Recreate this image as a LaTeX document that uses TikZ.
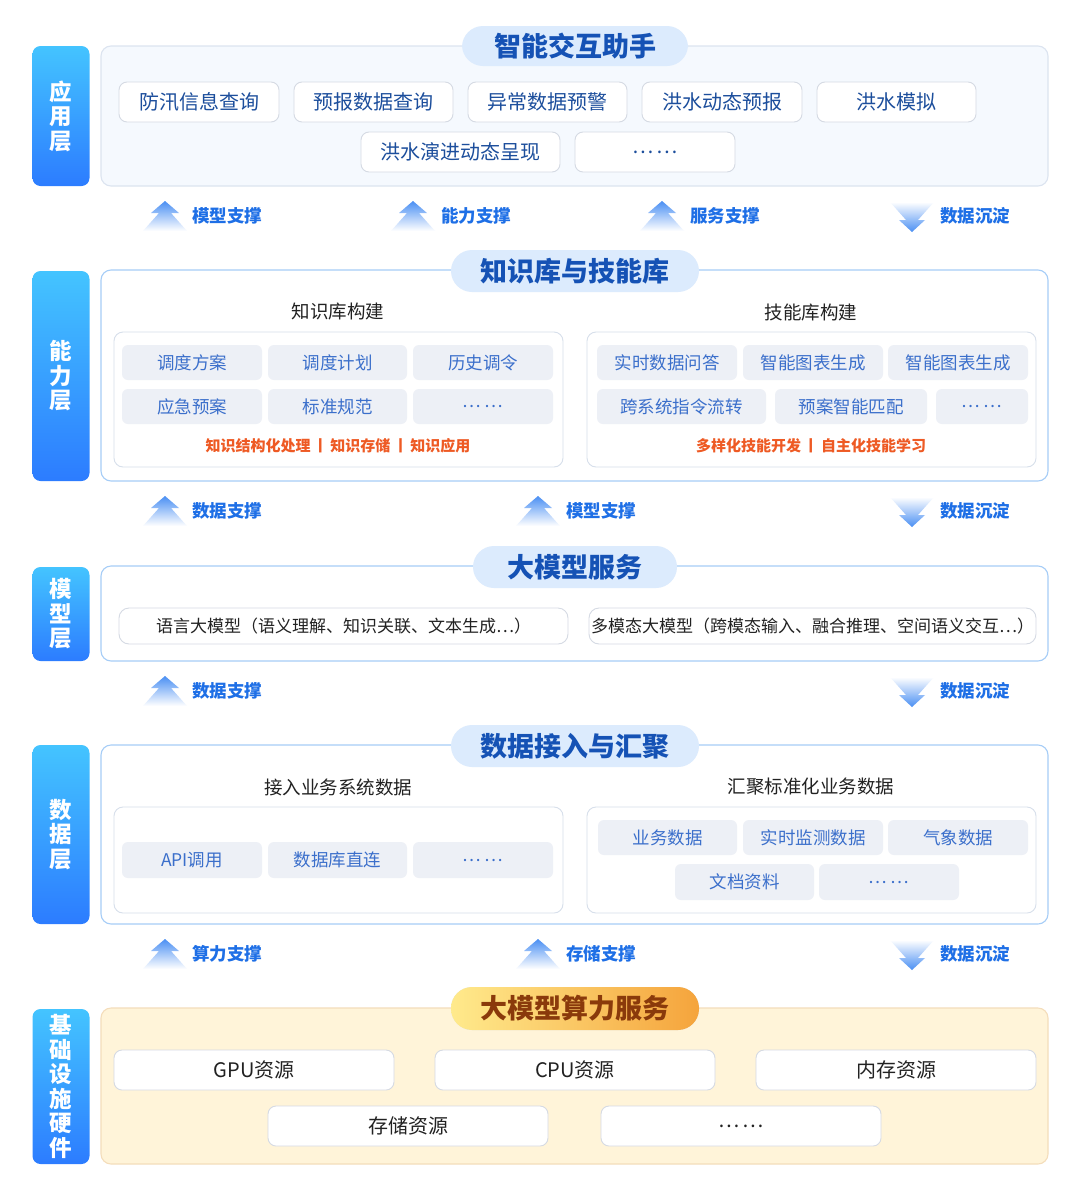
\documentclass[tikz,border=0pt]{standalone}
\usepackage{fontspec}
\setmainfont{Noto Sans CJK SC}
\definecolor{lyTop}{HTML}{44C4FF}
\definecolor{lyBot}{HTML}{2C7CFF}
\definecolor{pillFill}{HTML}{DCEBFD}
\definecolor{pillText}{HTML}{1552B5}
\definecolor{appFill}{HTML}{F5F9FE}
\definecolor{appLine}{HTML}{DCE4F0}
\definecolor{panLine}{HTML}{A6CDF7}
\definecolor{itemLine}{HTML}{D5DAE3}
\definecolor{itemText}{HTML}{1C4E9C}
\definecolor{chipFill}{HTML}{EDF0F6}
\definecolor{chipText}{HTML}{3B6FCB}
\definecolor{innerLine}{HTML}{D7DFEB}
\definecolor{darkText}{HTML}{222222}
\definecolor{orangeText}{HTML}{EE5A24}
\definecolor{suppText}{HTML}{1E6FE6}
\definecolor{arrBlue}{HTML}{4A8FF3}
\definecolor{baseFill}{HTML}{FFF4D9}
\definecolor{baseLine}{HTML}{F4DDBB}
\definecolor{goldL}{HTML}{FFEA8C}
\definecolor{goldR}{HTML}{F5A43C}
\definecolor{brownText}{HTML}{8A3A0B}
\newcommand{\dotsdots}{⋯\kern3pt⋯}
\tikzset{
  layer/.style={rounded corners=8, top color=lyTop, bottom color=lyBot, draw=none,
    minimum width=57, text=white, font=\fontsize{22.5}{24.5}\selectfont\bfseries,
    align=center, inner sep=0},
  panel/.style={rounded corners=10, draw=panLine, line width=1.1, fill=white, minimum width=947},
  pill/.style={rounded corners=21, fill=pillFill, text=pillText,
    font=\fontsize{27}{30}\selectfont\bfseries, inner sep=0},
  appitem/.style={rounded corners=8, fill=white, draw=itemLine, line width=0.9,
    text=itemText, font=\fontsize{20}{24}\selectfont, minimum height=40, inner sep=0},
  chip/.style={rounded corners=6, fill=chipFill, text=chipText,
    font=\fontsize{17.5}{21}\selectfont, inner sep=0},
  inner/.style={rounded corners=9, fill=white, draw=innerLine, line width=0.9, minimum width=449},
  subt/.style={text=darkText, font=\fontsize{18.5}{22}\selectfont},
  orange/.style={text=orangeText, font=\fontsize{15}{18}\selectfont\bfseries},
  supp/.style={text=suppText, font=\fontsize{17.5}{20}\selectfont\bfseries, anchor=west, inner sep=0},
  modelitem/.style={rounded corners=10, fill=white, draw=itemLine, line width=0.9,
    text=darkText, font=\fontsize{17}{20}\selectfont, minimum height=36, inner sep=0},
  baseitem/.style={rounded corners=8, fill=white, draw=itemLine, line width=0.9,
    text=darkText, font=\fontsize{20}{24}\selectfont, minimum height=40, minimum width=280, inner sep=0},
  uparr/.pic={\shade[top color=arrBlue, bottom color=white]
    (0,-15) -- (14,-3) -- (6,-3) -- (22,15) -- (-22,15) -- (-6,-3) -- (-14,-3) -- cycle;},
  dnarr/.pic={\shade[top color=white, bottom color=arrBlue]
    (-22,-15) -- (22,-15) -- (6,3) -- (13,3) -- (0,15) -- (-13,3) -- (-6,3) -- cycle;}
}
\begin{document}
\begin{tikzpicture}[x=1pt,y=-1pt]
\fill[white] (0,0) rectangle (1080,1189);
\useasboundingbox (0,0) rectangle (1080,1189);

% ---------- layer labels ----------
\node[layer, minimum height=140] (L1) at (61,116) {应\\用\\层};
\node[layer, minimum height=210] (L2) at (61,376) {能\\力\\层};
\node[layer, minimum height=94] (L3) at (61,614) {模\\型\\层};
\node[layer, minimum height=179] (L4) at (61,834.5) {数\\据\\层};
\node[layer, minimum height=155] (L5) at (61,1086.5) {基\\础\\设\\施\\硬\\件};

% ---------- application layer ----------
\node[panel, draw=appLine, fill=appFill, minimum height=140] (P1) at (574.5,116) {};
\node[pill, minimum width=226, minimum height=40] (T1) at (575,46) {智能交互助手};
\node[appitem, minimum width=160] (a1) at (199,102) {防汛信息查询};
\node[appitem, minimum width=159] (a2) at (373.5,102) {预报数据查询};
\node[appitem, minimum width=159] (a3) at (547.5,102) {异常数据预警};
\node[appitem, minimum width=160] (a4) at (722,102) {洪水动态预报};
\node[appitem, minimum width=159] (a5) at (896.5,102) {洪水模拟};
\node[appitem, minimum width=199] (a6) at (460.5,152) {洪水演进动态呈现};
\node[appitem, minimum width=160] (a7) at (655,152) {\dotsdots};

% support row 1
\pic at (165,216) {uparr};
\node[supp] (s11) at (192,216) {模型支撑};
\pic at (413,216) {uparr};
\node[supp] (s12) at (441,216) {能力支撑};
\pic at (662,216) {uparr};
\node[supp] (s13) at (690,216) {服务支撑};
\pic at (912,217) {dnarr};
\node[supp] (s14) at (940,216) {数据沉淀};

% ---------- ability layer ----------
\node[panel, minimum height=211] (P2) at (574.5,375.5) {};
\node[pill, minimum width=248, minimum height=42] (T2) at (575,271) {知识库与技能库};
\node[subt] (k1) at (338,312) {知识库构建};
\node[subt] (k2) at (811,312) {技能库构建};
\node[inner, minimum height=135] (IB1) at (338.5,399.5) {};
\node[inner, minimum height=135] (IB2) at (811.5,399.5) {};
\node[chip, minimum width=140, minimum height=35] (c1) at (192,362.5) {调度方案};
\node[chip, minimum width=139, minimum height=35] (c2) at (337.5,362.5) {调度计划};
\node[chip, minimum width=140, minimum height=35] (c3) at (483,362.5) {历史调令};
\node[chip, minimum width=140, minimum height=35] (c4) at (192,406.5) {应急预案};
\node[chip, minimum width=139, minimum height=35] (c5) at (337.5,406.5) {标准规范};
\node[chip, minimum width=140, minimum height=35] (c6) at (483,406.5) {\dotsdots};
\node[orange] (o1) at (338,446) {知识结构化处理\,丨\,知识存储\,丨\,知识应用};
\node[chip, minimum width=140, minimum height=35] (d1) at (667,362.5) {实时数据问答};
\node[chip, minimum width=140, minimum height=35] (d2) at (813,362.5) {智能图表生成};
\node[chip, minimum width=140, minimum height=35] (d3) at (958,362.5) {智能图表生成};
\node[chip, minimum width=169, minimum height=35] (d4) at (681.5,406.5) {跨系统指令流转};
\node[chip, minimum width=152, minimum height=35] (d5) at (851,406.5) {预案智能匹配};
\node[chip, minimum width=92, minimum height=35] (d6) at (982,406.5) {\dotsdots};
\node[orange] (o2) at (811,446) {多样化技能开发\,丨\,自主化技能学习};

% support row 2
\pic at (165,511) {uparr};
\node[supp] (s21) at (192,511) {数据支撑};
\pic at (538,511) {uparr};
\node[supp] (s22) at (566,511) {模型支撑};
\pic at (912,512) {dnarr};
\node[supp] (s23) at (940,511) {数据沉淀};

% ---------- model layer ----------
\node[panel, minimum height=95] (P3) at (574.5,613.5) {};
\node[pill, minimum width=204, minimum height=42] (T3) at (575,567) {大模型服务};
\node[modelitem, minimum width=449] (m1) at (343.5,626) {语言大模型（语义理解、知识关联、文本生成…）};
\node[modelitem, minimum width=447] (m2) at (812.5,626) {多模态大模型（跨模态输入、融合推理、空间语义交互…）};

% support row 3
\pic at (165,691) {uparr};
\node[supp] (s31) at (192,691) {数据支撑};
\pic at (912,692) {dnarr};
\node[supp] (s32) at (940,691) {数据沉淀};

% ---------- data layer ----------
\node[panel, minimum height=179] (P4) at (574.5,834.5) {};
\node[pill, minimum width=248, minimum height=42] (T4) at (575,746) {数据接入与汇聚};
\node[subt] (e1) at (338,787) {接入业务系统数据};
\node[subt] (e2) at (811,787) {汇聚标准化业务数据};
\node[inner, minimum height=106] (IB3) at (338.5,860) {};
\node[inner, minimum height=106] (IB4) at (811.5,860) {};
\node[chip, minimum width=140, minimum height=36] (f1) at (192,860) {API调用};
\node[chip, minimum width=139, minimum height=36] (f2) at (337.5,860) {数据库直连};
\node[chip, minimum width=140, minimum height=36] (f3) at (483,860) {\dotsdots};
\node[chip, minimum width=139, minimum height=35] (g1) at (667.5,837.5) {业务数据};
\node[chip, minimum width=140, minimum height=35] (g2) at (813,837.5) {实时监测数据};
\node[chip, minimum width=140, minimum height=35] (g3) at (958,837.5) {气象数据};
\node[chip, minimum width=139, minimum height=36] (g4) at (744.5,882) {文档资料};
\node[chip, minimum width=140, minimum height=36] (g5) at (889,882) {\dotsdots};

% support row 4
\pic at (165,954) {uparr};
\node[supp] (s41) at (192,954) {算力支撑};
\pic at (538,954) {uparr};
\node[supp] (s42) at (566,954) {存储支撑};
\pic at (912,955) {dnarr};
\node[supp] (s43) at (940,954) {数据沉淀};

% ---------- base layer ----------
\node[panel, draw=baseLine, fill=baseFill, minimum height=156] (P5) at (574.5,1086) {};
\node[pill, left color=goldL, right color=goldR, text=brownText, minimum width=248, minimum height=43] (T5) at (575,1008.5) {大模型算力服务};
\node[baseitem] (h1) at (254,1070) {GPU资源};
\node[baseitem] (h2) at (575,1070) {CPU资源};
\node[baseitem] (h3) at (896,1070) {内存资源};
\node[baseitem] (h4) at (408,1126) {存储资源};
\node[baseitem] (h5) at (741,1126) {\dotsdots};
\end{tikzpicture}
\end{document}
